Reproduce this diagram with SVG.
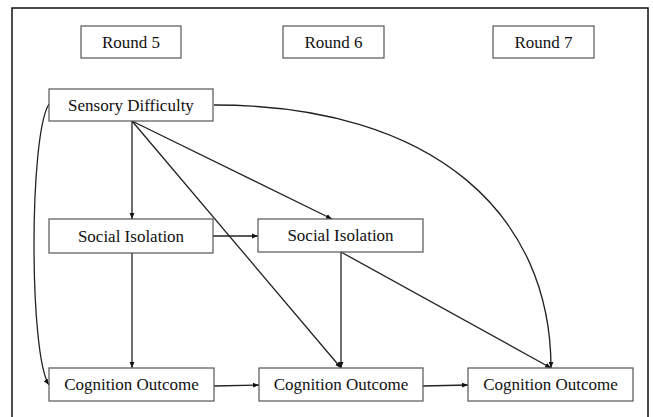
<svg xmlns="http://www.w3.org/2000/svg" width="653" height="417" viewBox="0 0 653 417">
<defs>
<style>
.box{fill:#fff;stroke:#555;stroke-width:1.2}
.lbl{font-size:17px;fill:#111;text-anchor:middle;dominant-baseline:central}
.edge{fill:none;stroke:#222;stroke-width:1.3;marker-end:url(#ah)}
</style>
<marker id="ah" viewBox="0 0 10 10" refX="10" refY="5" markerWidth="6" markerHeight="6" markerUnits="userSpaceOnUse" orient="auto">
<path d="M0,1 L10,5 L0,9 Z" fill="#111"/>
</marker>
</defs>
<rect width="653" height="417" fill="#fff"/>
<path d="M12,420 L12,8 L648,8 L648,420" fill="none" stroke="#111" stroke-width="1.5"/>

<g id="connectors">
<path class="edge" d="M132,121 L132,219"/>
<path class="edge" d="M132,121 L332,219"/>
<path class="edge" d="M132,121 L341,368"/>
<path class="edge" d="M214,105 C435,105 551,215 551,368"/>
<path class="edge" d="M49,104 C29,135 29,355 49,385"/>
<path class="edge" d="M213,236 L258,236"/>
<path class="edge" d="M132,253 L132,368"/>
<path class="edge" d="M341,252 L341,368"/>
<path class="edge" d="M341,252 L551,368"/>
<path class="edge" d="M214,386 L259,385"/>
<path class="edge" d="M423,386 L468,385"/>
</g>

<g font-family="Liberation Serif, Times New Roman, DejaVu Serif, serif">
<g id="round5"><rect class="box" x="81" y="26" width="100" height="32"/><text class="lbl" x="131" y="42">Round 5</text></g>
<g id="round6"><rect class="box" x="283" y="26" width="101" height="32"/><text class="lbl" x="333.5" y="42">Round 6</text></g>
<g id="round7"><rect class="box" x="493" y="26" width="101" height="32"/><text class="lbl" x="543.5" y="42">Round 7</text></g>

<g id="sensory"><rect class="box" x="49" y="89" width="164" height="32"/><text class="lbl" x="131" y="105">Sensory Difficulty</text></g>
<g id="social5"><rect class="box" x="49" y="219" width="164" height="34"/><text class="lbl" x="131" y="236">Social Isolation</text></g>
<g id="social6"><rect class="box" x="258" y="219" width="165" height="33"/><text class="lbl" x="340.5" y="235.5">Social Isolation</text></g>
<g id="cog5"><rect class="box" x="49" y="368" width="165" height="33"/><text class="lbl" x="131.5" y="384.5">Cognition Outcome</text></g>
<g id="cog6"><rect class="box" x="259" y="368" width="164" height="33"/><text class="lbl" x="341" y="384.5">Cognition Outcome</text></g>
<g id="cog7"><rect class="box" x="468" y="368" width="165" height="33"/><text class="lbl" x="550.5" y="384.5">Cognition Outcome</text></g>
</g>
</svg>
